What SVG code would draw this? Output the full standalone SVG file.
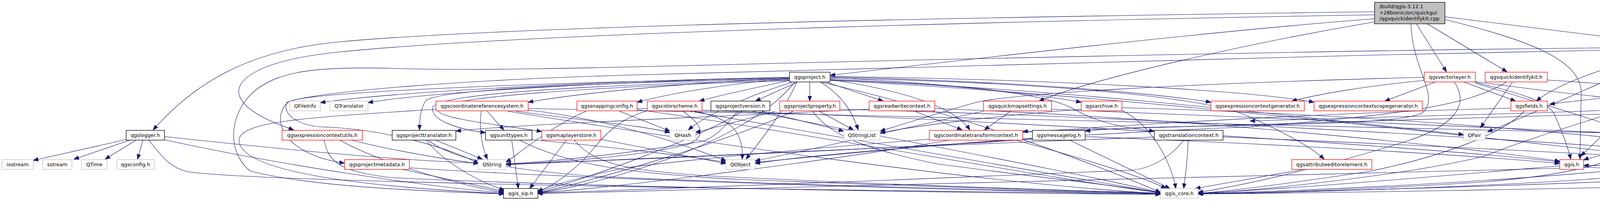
<svg xmlns="http://www.w3.org/2000/svg" width="5202" height="515" viewBox="0 0 5202 515">
<style>
.nb rect{fill:#fff;stroke:#000;stroke-width:1.3}
.nr rect{fill:#fff;stroke:#f00;stroke-width:1.3}
.ng rect{fill:#fff;stroke:#bfbfbf;stroke-width:1.3}
.root rect{fill:#bfbfbf;stroke:#000;stroke-width:1.3}
text{font-family:"DejaVu Sans","Liberation Sans",sans-serif;font-size:12.9px;fill:#000}
.c{text-anchor:middle}
#edges path{fill:none;stroke:#191970;stroke-width:1.1;marker-end:url(#ah)}
</style>
<defs>
<marker id="ah" markerUnits="userSpaceOnUse" markerWidth="14" markerHeight="11" refX="13" refY="5.5" orient="auto">
<path d="M0,0.5 L13,5.5 L0,10.5 z" fill="#191970" stroke="#191970" stroke-width="1"/>
</marker>
</defs>
<rect width="5202" height="515" fill="#fff"/>
<g id="edges">
<path d="M3519,48 C3100,80 2500,150 2125,193"/>
<path d="M3519,30 C2800,40 1400,60 870,107 C640,128 500,210 392,333"/>
<path d="M3519,38 C2800,50 1400,80 870,133 C650,155 600,210 613,245 C625,285 700,315 752,333"/>
<path d="M3519,56 C3200,110 2800,200 2660,259"/>
<path d="M3626,61 L3703,184"/>
<path d="M3654,61 L3858,184"/>
<path d="M3612,61 C3615,180 3690,250 3640,290 C3560,330 2950,315 2778,336"/>
<path d="M3699,50 C3900,100 4050,150 4048,240 C4046,320 4045,370 4045,408"/>
<path d="M3699,43 L4279,115"/>
<path d="M2021,198 C1600,205 1000,235 820,263"/>
<path d="M2021,199 C1600,208 1100,235 942,263"/>
<path d="M2021,200 C1800,210 1500,235 1352,262"/>
<path d="M2021,202 C1880,212 1720,238 1631,262"/>
<path d="M2021,206 C1950,222 1850,242 1790,259"/>
<path d="M2042,210 L1934,259"/>
<path d="M2073,210 L2073,259"/>
<path d="M2114,210 L2261,259"/>
<path d="M2100,210 C2150,240 2180,280 2197,333"/>
<path d="M2125,204 C2300,230 2440,270 2483,333"/>
<path d="M2125,199 C2400,212 2650,240 2768,262"/>
<path d="M2125,197 C2600,208 2950,238 3100,262"/>
<path d="M2125,196 C2700,203 3200,232 3364,262"/>
<path d="M2125,200 C2700,212 3100,250 3200,300 C3300,345 3360,380 3390,408"/>
<path d="M2125,203 C2500,220 2680,240 2750,280 C2820,320 2900,330 2955,336"/>
<path d="M2021,203 C1500,212 1120,230 1090,258 C1075,280 1074,310 1074,333"/>
<path d="M2021,205 C1500,218 1120,240 1108,275 C1100,310 1180,332 1243,340"/>
<path d="M2021,207 C1500,222 1130,250 1120,280 C1115,305 1300,322 1387,337"/>
<path d="M2021,201 C1400,210 800,235 740,260 C690,300 720,395 882,418"/>
<path d="M2030,210 C1900,250 1800,300 1762,333"/>
<path d="M2040,210 C2000,300 1930,380 1910,408"/>
<path d="M2125,205 C2800,230 3500,320 3747,345"/>
<path d="M2125,206 C3000,250 4000,380 4419,420"/>
<path d="M2035,210 C1900,380 1500,480 1376,494"/>
<path d="M2100,210 C2500,300 2850,440 2971,493"/>
<path d="M330,356 L85,411"/>
<path d="M333,359 L189,408"/>
<path d="M348,359 L269,408"/>
<path d="M366,359 L352,408"/>
<path d="M421,350 C700,380 1000,410 1225,418"/>
<path d="M421,358 C700,420 1100,480 1290,494"/>
<path d="M381,359 C420,410 440,430 480,440 C700,472 2400,490 2971,497"/>
<path d="M900,359 C1000,385 1150,410 1225,419"/>
<path d="M870,359 C960,410 1150,470 1290,493"/>
<path d="M830,359 C840,420 880,440 1000,455 C1500,480 2500,495 2971,498"/>
<path d="M1030,434 L1290,490"/>
<path d="M1048,430 C1500,460 2500,490 2971,496"/>
<path d="M1232,285 C1225,330 1235,380 1248,408"/>
<path d="M1247,285 L1290,333"/>
<path d="M1352,282 C1600,310 1800,390 1859,412"/>
<path d="M1320,285 C1500,310 1650,322 1715,340"/>
<path d="M1116,280 C800,300 610,310 612,360 C615,450 1000,482 1290,496"/>
<path d="M1300,285 C1700,350 2500,470 2971,496"/>
<path d="M1352,278 C2500,300 3800,330 4189,342"/>
<path d="M1586,285 L1715,336"/>
<path d="M1631,281 C2000,330 2700,460 2971,494"/>
<path d="M1631,278 C2500,300 3700,380 3993,415"/>
<path d="M1500,285 C1400,330 1320,400 1295,416"/>
<path d="M1777,285 C1860,300 1905,330 1900,408"/>
<path d="M1748,285 C1800,320 1810,350 1760,370 C1650,400 1400,418 1295,421"/>
<path d="M1657,284 C1600,300 1560,330 1520,380 C1480,430 1420,475 1376,492"/>
<path d="M1767,285 C2100,340 2700,450 2971,494"/>
<path d="M1888,285 C1860,320 1830,355 1793,363 C1600,395 1400,415 1295,420"/>
<path d="M1950,285 L2160,336"/>
<path d="M1927,285 C2200,340 2800,450 2971,494"/>
<path d="M1900,285 C1800,350 1500,460 1376,492"/>
<path d="M1985,285 L1780,340"/>
<path d="M2097,285 L2185,333"/>
<path d="M2150,280 C3000,300 4300,380 4637,418"/>
<path d="M2080,285 C2120,340 2200,380 2400,420 C2700,460 2900,480 2971,494"/>
<path d="M2030,285 C1900,350 1500,470 1376,494"/>
<path d="M2225,280 C1800,300 1300,320 1167,336"/>
<path d="M2342,285 L2463,333"/>
<path d="M2393,278 C3000,300 3700,370 3993,413"/>
<path d="M2518,285 C2300,330 2100,380 1933,412"/>
<path d="M2587,285 L2520,333"/>
<path d="M2692,280 C3200,300 3900,330 4189,343"/>
<path d="M2768,280 C2500,300 2300,330 2253,341"/>
<path d="M2872,283 C2950,320 3000,420 3010,483"/>
<path d="M2872,276 C3800,300 4700,400 5113,496"/>
<path d="M2600,359 C2750,400 2920,450 2985,483"/>
<path d="M2430,359 C2200,400 1600,480 1376,494"/>
<path d="M2643,357 C2300,380 1600,410 1295,421"/>
<path d="M2643,354 C2400,370 2100,400 1933,416"/>
<path d="M2738,359 L2995,483"/>
<path d="M2778,350 C3300,370 3800,400 3993,419"/>
<path d="M2955,351 C2400,370 1600,410 1295,422"/>
<path d="M3030,359 C3000,400 2950,430 2900,436 C2500,456 1600,485 1376,495"/>
<path d="M3042,359 C3040,400 3035,450 3030,483"/>
<path d="M3131,351 C3600,370 4200,400 4419,415"/>
<path d="M3337,434 L3060,483"/>
<path d="M3646,206 C3500,220 3380,240 3307,259"/>
<path d="M3675,210 L3545,259"/>
<path d="M3747,210 L3880,259"/>
<path d="M3777,209 C4000,240 4200,260 4289,266"/>
<path d="M3777,211 C3900,240 3960,262 3978,290 C4000,340 4015,380 4021,408"/>
<path d="M3723,210 C3770,280 3700,330 3600,362 C3400,425 3200,472 3067,493"/>
<path d="M3646,198 C3000,215 2600,240 2500,262 C2400,290 2300,322 2253,336"/>
<path d="M3777,213 C4000,280 4300,380 4419,412"/>
<path d="M3857,210 C3760,270 3600,293 3200,325 C2700,345 2100,392 1933,419"/>
<path d="M3872,210 L3790,327"/>
<path d="M3961,205 C4200,220 4450,245 4567,263"/>
<path d="M4279,133 C4100,170 3980,220 3933,259"/>
<path d="M4282,135 C4150,185 4000,260 3808,338"/>
<path d="M4306,135 L4212,182"/>
<path d="M4320,136 C4250,200 4150,300 4047,400"/>
<path d="M4328,136 L4255,330"/>
<path d="M4337,136 L4362,258"/>
<path d="M4358,136 C4450,200 4495,300 4463,405"/>
<path d="M4390,131 L4613,185"/>
<path d="M4390,134 C4500,170 4580,200 4627,258"/>
<path d="M4390,127 C4600,150 4820,200 4800,260 C4790,300 4770,320 4760,333"/>
<path d="M4390,125 C4700,170 4880,250 4860,320 C4840,370 4750,400 4715,412"/>
<path d="M4390,124 C4700,150 4900,220 4935,300 C4950,340 4942,380 4943,408"/>
<path d="M4390,122 C4800,150 5150,300 5172,380 C5182,430 5172,460 5170,483"/>
<path d="M4390,123 C4900,160 5100,280 5082,400 C5072,440 5000,452 4700,466 C4000,486 3300,495 3067,497"/>
<path d="M4279,121 C3500,127 2500,150 2000,162 C1500,175 1200,182 1000,175 C800,170 720,185 662,225 C592,275 572,380 640,438 C800,480 1100,490 1290,497"/>
<path d="M4279,125 C3400,140 2400,172 1700,190 C1200,202 800,235 735,262 C720,290 760,320 820,325 C1000,330 1180,390 1225,420"/>
<path d="M4667,210 L4647,258"/>
<path d="M4713,210 C4760,240 4780,290 4755,333"/>
<path d="M4690,210 C4740,260 4730,300 4670,322 C4600,345 4510,385 4480,403"/>
<path d="M4620,203 C4400,220 4100,250 3967,267"/>
<path d="M4620,206 C4400,240 4250,265 4180,273 C4000,330 3900,360 3800,400 C3600,450 3200,490 3067,496"/>
<path d="M4726,210 C4900,260 5150,350 5150,420 C5150,450 5145,470 5140,483"/>
<path d="M3902,285 C3850,340 3700,400 3500,440 C3300,470 3150,490 3067,495"/>
<path d="M3868,277 C3000,300 2000,380 1600,430 C1450,462 1400,480 1376,490"/>
<path d="M4345,285 L4272,330"/>
<path d="M4373,285 L4440,405"/>
<path d="M4443,278 C4700,330 5000,430 5113,496"/>
<path d="M4362,285 C4330,350 4300,400 4200,430 C3800,470 3300,490 3067,496"/>
<path d="M4290,275 C4000,290 3500,300 3200,310"/>
<path d="M4570,279 C3900,300 3000,320 2618,337"/>
<path d="M4575,285 L4313,333"/>
<path d="M4660,285 L4714,333"/>
<path d="M4718,280 C4900,320 5100,400 5125,483"/>
<path d="M4637,285 C4600,360 4500,410 4300,440 C3900,480 3300,493 3067,497"/>
<path d="M4683,359 L4480,412"/>
<path d="M4725,359 L4690,408"/>
<path d="M4740,359 C4745,400 4730,430 4700,436 C4200,470 3300,492 3067,497"/>
<path d="M4708,359 C4600,410 4400,430 4054,424"/>
<path d="M4227,359 C4150,390 4080,400 4054,410"/>
<path d="M4208,359 C4150,420 4000,450 3800,466 C3500,486 3200,495 3067,497"/>
<path d="M4307,353 C4500,380 4750,400 4883,415"/>
<path d="M4290,359 C4400,380 4550,405 4630,415"/>
<path d="M4054,428 C4500,450 4900,480 5113,493"/>
<path d="M3993,425 C3700,450 3300,485 3067,495"/>
<path d="M3993,431 C3000,460 2000,485 1376,496"/>
<path d="M1310,359 L1327,483"/>
<path d="M1330,359 C1450,420 1600,445 1900,460 C2400,480 2800,490 2971,495"/>
<path d="M1362,358 C1600,380 1800,405 1859,416"/>
<path d="M1115,359 L1235,408"/>
<path d="M1090,359 C1150,430 1250,475 1292,487"/>
<path d="M1095,359 C1150,400 1250,430 1500,450 C2000,475 2700,490 2971,495"/>
<path d="M1450,359 L1356,483"/>
<path d="M1470,359 C1520,420 1600,435 1800,450 C2300,475 2800,490 2971,495"/>
<path d="M1538,357 L1859,419"/>
</g>
<g id="nodes">
<g id="node-root" class="root"><rect x="3519" y="6" width="180" height="55"/><text x="3531" y="21">/build/qgis-3.12.1</text><text x="3531" y="36.5">+28bionic/src/quickgui</text><text x="3531" y="52">/qgsquickidentifykit.cpp</text></g>
<g id="node-qgsrenderer" class="nr"><rect x="4279" y="110" width="111" height="25"/><text class="c" x="4334.5" y="127">qgsrenderer.h</text></g>
<g id="node-qgsproject" class="nb"><rect x="2021" y="185" width="104" height="25"/><text class="c" x="2073" y="202">qgsproject.h</text></g>
<g id="node-qgsvectorlayer" class="nr"><rect x="3646" y="185" width="131" height="25"/><text class="c" x="3711.5" y="202">qgsvectorlayer.h</text></g>
<g id="node-qgsquickidentifykit" class="nr"><rect x="3802" y="185" width="159" height="25"/><text class="c" x="3881.5" y="202">qgsquickidentifykit.h</text></g>
<g id="node-QPixmap" class="ng"><rect x="4138" y="185" width="81" height="25"/><text class="c" x="4178.5" y="202">QPixmap</text></g>
<g id="node-qgssymbol" class="nr"><rect x="4620" y="185" width="106" height="25"/><text class="c" x="4673" y="202">qgssymbol.h</text></g>
<g id="node-QFileInfo" class="ng"><rect x="742" y="259" width="78" height="25"/><text class="c" x="781" y="276">QFileInfo</text></g>
<g id="node-QTranslator" class="ng"><rect x="845" y="259" width="97" height="25"/><text class="c" x="893.5" y="276">QTranslator</text></g>
<g id="node-qgscoordinatereferencesystem" class="nr"><rect x="1116" y="259" width="236" height="25"/><text class="c" x="1234" y="276">qgscoordinatereferencesystem.h</text></g>
<g id="node-qgssnappingconfig" class="nr"><rect x="1477" y="259" width="154" height="25"/><text class="c" x="1554" y="276">qgssnappingconfig.h</text></g>
<g id="node-qgscolorscheme" class="nr"><rect x="1657" y="259" width="140" height="25"/><text class="c" x="1727" y="276">qgscolorscheme.h</text></g>
<g id="node-qgsprojectversion" class="nb"><rect x="1820" y="259" width="151" height="25"/><text class="c" x="1895.5" y="276">qgsprojectversion.h</text></g>
<g id="node-qgsprojectproperty" class="nr"><rect x="1996" y="259" width="154" height="25"/><text class="c" x="2073" y="276">qgsprojectproperty.h</text></g>
<g id="node-qgsreadwritecontext" class="nr"><rect x="2225" y="259" width="168" height="25"/><text class="c" x="2309" y="276">qgsreadwritecontext.h</text></g>
<g id="node-qgsquickmapsettings" class="nr"><rect x="2518" y="259" width="174" height="25"/><text class="c" x="2605" y="276">qgsquickmapsettings.h</text></g>
<g id="node-qgsarchive" class="nr"><rect x="2768" y="259" width="104" height="25"/><text class="c" x="2820" y="276">qgsarchive.h</text></g>
<g id="node-qgsexpressioncontextgenerator" class="nr"><rect x="3100" y="259" width="239" height="25"/><text class="c" x="3219.5" y="276">qgsexpressioncontextgenerator.h</text></g>
<g id="node-qgsexpressioncontextscopegenerator" class="nr"><rect x="3364" y="259" width="277" height="25"/><text class="c" x="3502.5" y="276">qgsexpressioncontextscopegenerator.h</text></g>
<g id="node-qgsfields" class="nr"><rect x="3868" y="259" width="93" height="25"/><text class="c" x="3914.5" y="276">qgsfields.h</text></g>
<g id="node-qgsfeaturerequest" class="nr"><rect x="4290" y="259" width="153" height="25"/><text class="c" x="4366.5" y="276">qgsfeaturerequest.h</text></g>
<g id="node-qgsrendercontext" class="nr"><rect x="4570" y="259" width="148" height="25"/><text class="c" x="4644" y="276">qgsrendercontext.h</text></g>
<g id="node-qgslogger" class="nb"><rect x="323" y="334" width="98" height="25"/><text class="c" x="372" y="351">qgslogger.h</text></g>
<g id="node-qgsexpressioncontextutils" class="nr"><rect x="722" y="334" width="206" height="25"/><text class="c" x="825" y="351">qgsexpressioncontextutils.h</text></g>
<g id="node-qgsprojecttranslator" class="nb"><rect x="1004" y="334" width="163" height="25"/><text class="c" x="1085.5" y="351">qgsprojecttranslator.h</text></g>
<g id="node-qgsunittypes" class="nb"><rect x="1243" y="334" width="119" height="25"/><text class="c" x="1302.5" y="351">qgsunittypes.h</text></g>
<g id="node-qgsmaplayerstore" class="nr"><rect x="1387" y="334" width="151" height="25"/><text class="c" x="1462.5" y="351">qgsmaplayerstore.h</text></g>
<g id="node-QHash" class="ng"><rect x="1715" y="334" width="66" height="25"/><text class="c" x="1748" y="351">QHash</text></g>
<g id="node-QStringList" class="ng"><rect x="2160" y="334" width="93" height="25"/><text class="c" x="2206.5" y="351">QStringList</text></g>
<g id="node-qgscoordinatetransformcontext" class="nr"><rect x="2379" y="334" width="239" height="25"/><text class="c" x="2498.5" y="351">qgscoordinatetransformcontext.h</text></g>
<g id="node-qgsmessagelog" class="nb"><rect x="2643" y="334" width="135" height="25"/><text class="c" x="2710.5" y="351">qgsmessagelog.h</text></g>
<g id="node-qgstranslationcontext" class="nb"><rect x="2955" y="334" width="176" height="25"/><text class="c" x="3043" y="351">qgstranslationcontext.h</text></g>
<g id="node-QPair" class="ng"><rect x="3747" y="334" width="55" height="25"/><text class="c" x="3774.5" y="351">QPair</text></g>
<g id="node-qgsrectangle" class="nr"><rect x="4188" y="334" width="119" height="25"/><text class="c" x="4247.5" y="351">qgsrectangle.h</text></g>
<g id="node-qgssymbollayerreference" class="nr"><rect x="4635" y="334" width="200" height="25"/><text class="c" x="4735" y="351">qgssymbollayerreference.h</text></g>
<g id="node-iostream" class="ng"><rect x="5" y="409" width="80" height="25"/><text class="c" x="45" y="426">iostream</text></g>
<g id="node-sstream" class="ng"><rect x="109" y="409" width="75" height="25"/><text class="c" x="146.5" y="426">sstream</text></g>
<g id="node-QTime" class="ng"><rect x="209" y="409" width="65" height="25"/><text class="c" x="241.5" y="426">QTime</text></g>
<g id="node-qgsconfig" class="ng"><rect x="299" y="409" width="96" height="25"/><text class="c" x="347" y="426">qgsconfig.h</text></g>
<g id="node-qgsprojectmetadata" class="nr"><rect x="882" y="409" width="166" height="25"/><text class="c" x="965" y="426">qgsprojectmetadata.h</text></g>
<g id="node-QString" class="ng"><rect x="1224" y="409" width="71" height="25"/><text class="c" x="1259.5" y="426">QString</text></g>
<g id="node-QObject" class="ng"><rect x="1858" y="409" width="75" height="25"/><text class="c" x="1895.5" y="426">QObject</text></g>
<g id="node-qgsattributeeditorelement" class="nr"><rect x="3307" y="409" width="205" height="25"/><text class="c" x="3409.5" y="426">qgsattributeeditorelement.h</text></g>
<g id="node-qgis" class="nr"><rect x="3993" y="409" width="61" height="25"/><text class="c" x="4023.5" y="426">qgis.h</text></g>
<g id="node-QList" class="ng"><rect x="4419" y="409" width="55" height="25"/><text class="c" x="4446.5" y="426">QList</text></g>
<g id="node-QVariant" class="ng"><rect x="4637" y="409" width="78" height="25"/><text class="c" x="4676" y="426">QVariant</text></g>
<g id="node-QDomDocument" class="ng"><rect x="4883" y="409" width="130" height="25"/><text class="c" x="4948" y="426">QDomDocument</text></g>
<g id="node-qgis_sip" class="nb"><rect x="1289" y="483" width="88" height="25"/><text class="c" x="1333" y="500">qgis_sip.h</text></g>
<g id="node-qgis_core" class="ng"><rect x="2971" y="483" width="96" height="25"/><text class="c" x="3019" y="500">qgis_core.h</text></g>
<g id="node-memory" class="ng"><rect x="5113" y="483" width="77" height="25"/><text class="c" x="5151.5" y="500">memory</text></g>
</g>
</svg>
